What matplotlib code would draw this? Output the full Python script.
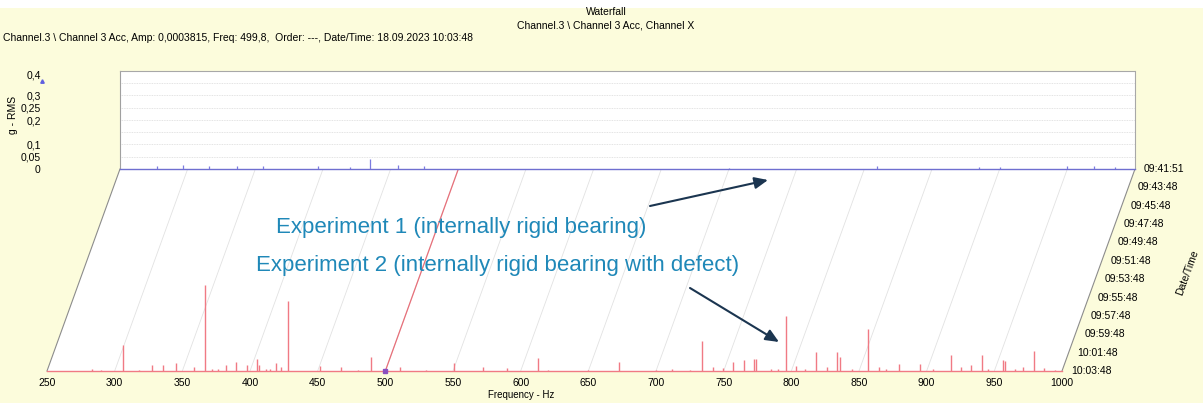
import numpy as np
import matplotlib
matplotlib.use('Agg')
import matplotlib.pyplot as plt
from matplotlib.patches import Polygon, Rectangle
from matplotlib.transforms import Affine2D, offset_copy

plt.rcParams['font.family'] = ['Liberation Sans', 'DejaVu Sans']

# ---- data ----
freq_ticks = [250, 300, 350, 400, 450, 500, 550, 600, 650, 700, 750, 800, 850, 900, 950, 1000]
amp_ticks = [0, 0.05, 0.1, 0.2, 0.25, 0.3, 0.4]
amp_tick_labels = ['0', '0,05', '0,1', '0,2', '0,25', '0,3', '0,4']
times = ['09:41:51', '09:43:48', '09:45:48', '09:47:48', '09:49:48', '09:51:48',
         '09:53:48', '09:55:48', '09:57:48', '09:59:48', '10:01:48', '10:03:48']

# Experiment 2 (front slice, 10:03:48) - peaks in g RMS
red_freq = [283, 290, 306, 318, 327.6, 336, 345, 358.7, 367, 372, 376, 382, 389.5, 397.7,
            405, 407, 412, 415, 419, 423, 428, 451.4, 467, 480, 489.5, 511, 530, 550.7,
            572, 590, 612.6, 620, 650, 672.7, 700, 712, 725, 733.9, 742, 749.5, 757, 765,
            772.3, 774, 785, 790, 795.9, 803.5, 810, 818.3, 826.4, 834, 836, 845, 856.7,
            864.6, 870, 879.4, 895.4, 905, 917.8, 925.7, 932.8, 940.8, 945, 956.4, 958,
            965, 971, 979, 987, 995]
red_amp = [0.008, 0.006, 0.106, 0.006, 0.024, 0.024, 0.033, 0.016, 0.351, 0.008, 0.008,
           0.024, 0.037, 0.024, 0.049, 0.024, 0.010, 0.010, 0.033, 0.016, 0.286, 0.020,
           0.016, 0.006, 0.057, 0.016, 0.006, 0.033, 0.016, 0.012, 0.053, 0.006, 0.006,
           0.037, 0.006, 0.008, 0.006, 0.122, 0.016, 0.012, 0.037, 0.045, 0.049, 0.049,
           0.008, 0.010, 0.224, 0.020, 0.008, 0.078, 0.016, 0.078, 0.057, 0.008, 0.171,
           0.016, 0.008, 0.029, 0.029, 0.008, 0.065, 0.016, 0.024, 0.065, 0.010, 0.045,
           0.041, 0.008, 0.016, 0.082, 0.012, 0.006]

# Experiment 1 (back slice, 09:41:51)
blue_freq = [277, 296.5, 316, 336.5, 356, 396, 420, 435, 455.5, 474.7, 700, 809, 885, 900,
             950, 970, 985]
blue_amp = [0.012, 0.016, 0.012, 0.012, 0.012, 0.012, 0.008, 0.041, 0.016, 0.012, 0.006,
            0.012, 0.008, 0.008, 0.012, 0.012, 0.008]

# ---- layout (pixels) ----
W, H = 1203, 403
FX0, FX1, FY = 47, 1062, 371      # front baseline
AMP_H = 98                         # pixels for 0.4 g
DDX, DDY = 73, 202                 # depth shift front -> back

BG = '#fcfcdc'
fig = plt.figure(figsize=(W / 100, H / 100), dpi=100, facecolor=BG)
fig.patches.append(Rectangle((0, (H - 8) / H), 1, 8 / H, transform=fig.transFigure,
                             facecolor='white', edgecolor='none', zorder=-1))

ax = fig.add_axes([FX0 / W, (H - FY) / H, (FX1 - FX0) / W, AMP_H / H])
ax.set_xlim(250, 1000)
ax.set_ylim(0, 0.4)
ax.patch.set_visible(False)
for s in ax.spines.values():
    s.set_visible(False)
ax.set_yticks([])
ax.set_xticks(freq_ticks)
ax.tick_params(axis='x', length=0, pad=5, labelsize=7.5)
ax.set_xlabel('Frequency - Hz', fontsize=7)
ax.xaxis.set_label_coords(0.467, -0.19)

dx_hz = DDX / (FX1 - FX0) * 750
dy_g = DDY / AMP_H * 0.4
floor_tr = Affine2D(np.array([[1, dx_hz, 0], [0, dy_g, 0], [0, 0, 1]])) + ax.transData

ax.add_patch(Polygon([(250, 0), (1000, 0), (1000, 1), (250, 1)], closed=True,
                     transform=floor_tr, facecolor='white', edgecolor='none',
                     zorder=0, clip_on=False))
for f in freq_ticks[1:-1]:
    ax.plot([f, f], [0, 1], transform=floor_tr, color='#e2e2e2', lw=0.6,
            clip_on=False, zorder=1)
for f in (250, 1000):
    ax.plot([f, f], [0, 1], transform=floor_tr, color='#8c8c8c', lw=0.8,
            clip_on=False, zorder=1)
ax.plot([500, 500], [0, 1], transform=floor_tr, color='#e8707a', lw=0.9,
        clip_on=False, zorder=2)

# front spectrum
ax.plot([250, 1000], [0, 0], color='#f07a84', lw=1.0, zorder=3, clip_on=False)
ax.vlines(red_freq, 0, red_amp, color='#f07a84', lw=1.0, zorder=3)
ax.plot(500, 0, 's', ms=3, color='#8a4fc0', zorder=4, clip_on=False)

# time labels along the right edge
tlab_tr = offset_copy(floor_tr, x=9, y=0, units='dots')
n = len(times)
for i, t in enumerate(times):
    ax.text(1000, 1 - i / (n - 1), t, transform=tlab_tr, ha='left', va='center',
            fontsize=7.5)
fig.text(1187 / W, 1 - 273 / H, 'Date/Time', rotation=70, ha='center', va='center',
         fontsize=7.5)

# back panel
axb = fig.add_axes([(FX0 + DDX) / W, (H - FY + DDY) / H, (FX1 - FX0) / W, AMP_H / H])
axb.set_facecolor('white')
axb.set_xlim(250, 1000)
axb.set_ylim(0, 0.4)
axb.set_xticks([])
axb.set_yticks(amp_ticks)
axb.set_yticklabels(amp_tick_labels)
axb.tick_params(axis='y', length=0, pad=57, labelsize=7.5)
axb.get_yticklabels()[-1].set_va('top')
for g in np.arange(0.05, 0.4, 0.05):
    axb.axhline(g, color='#dadada', lw=0.6, ls=(0, (1, 1)), zorder=1)
axb.spines['left'].set_color('#a0a0a0')
for side in ('top', 'right'):
    axb.spines[side].set_color('#a8a8a8')
    axb.spines[side].set_linestyle((0, (1, 1)))
axb.spines['bottom'].set_visible(False)
axb.set_ylabel('g - RMS', fontsize=7.5)
axb.yaxis.set_label_coords(-0.1, 0.55)
axb.plot([250, 1000], [0, 0], color='#6f6fd0', lw=1.0, zorder=3, clip_on=False)
axb.vlines(blue_freq, 0, blue_amp, color='#7b7be0', lw=0.9, zorder=3)
axb.plot([-0.077], [0.895], '^', ms=2.5, color='#6060e0', transform=axb.transAxes,
         clip_on=False)

# headers
fig.text(606 / W, 1 - 12 / H, 'Waterfall', ha='center', va='center', fontsize=7.5)
fig.text(606 / W, 1 - 25 / H, 'Channel.3 \\ Channel 3 Acc, Channel X', ha='center',
         va='center', fontsize=7.5)
fig.text(3 / W, 1 - 38 / H,
         'Channel.3 \\ Channel 3 Acc, Amp: 0,0003815, Freq: 499,8,  Order: ---, '
         'Date/Time: 18.09.2023 10:03:48', ha='left', va='center', fontsize=7.5)

# annotations
TXT = '#1f88b8'
ARR = '#1b3550'
fig.text(276 / W, 1 - 228 / H, 'Experiment 1 (internally rigid bearing)', color=TXT,
         ha='left', va='center', fontsize=16)
fig.text(256 / W, 1 - 266 / H, 'Experiment 2 (internally rigid bearing with defect)',
         color=TXT, ha='left', va='center', fontsize=16)
arrow = dict(arrowstyle='-|>,head_length=0.8,head_width=0.35', color=ARR, lw=1.5,
             shrinkA=0, shrinkB=0)
ax.annotate('', xy=(768, H - 180), xytext=(650, H - 206), xycoords='figure pixels',
            textcoords='figure pixels', arrowprops=arrow)
ax.annotate('', xy=(779, H - 342), xytext=(690, H - 288), xycoords='figure pixels',
            textcoords='figure pixels', arrowprops=arrow)

fig.savefig('out.png', dpi=100, facecolor=BG)
